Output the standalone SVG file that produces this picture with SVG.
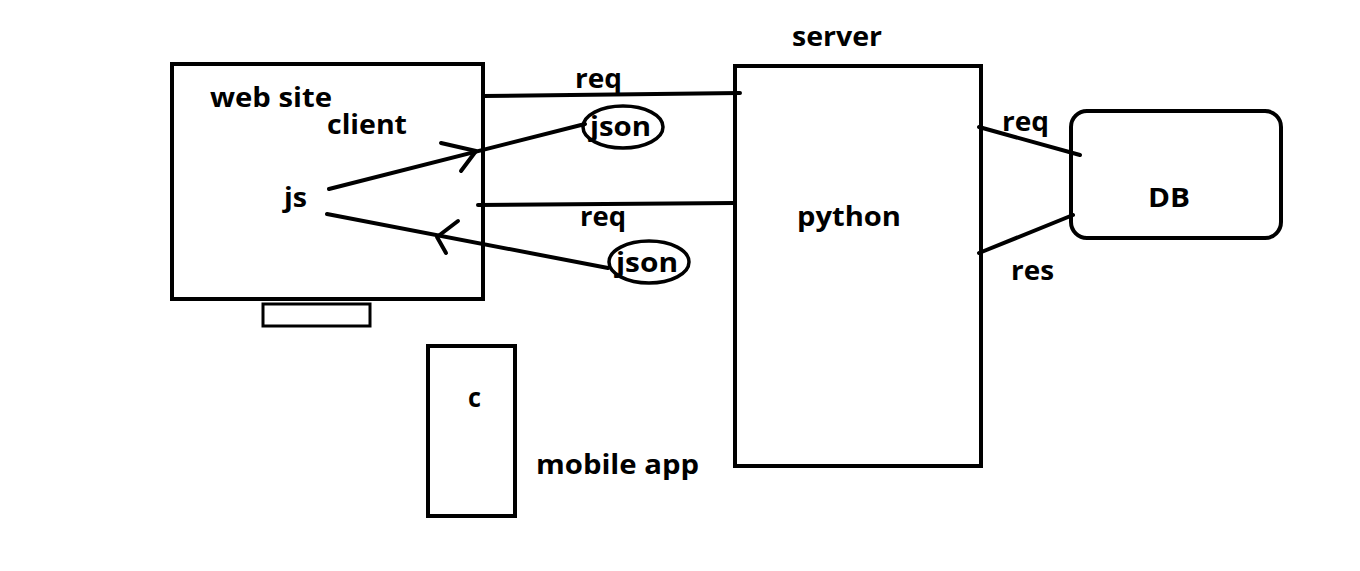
<svg xmlns="http://www.w3.org/2000/svg" width="1360" height="571" viewBox="0 0 1360 571">
<style>
.box{fill:none;stroke:#000;stroke-width:4}
.ln{fill:none;stroke:#000;stroke-width:4;stroke-linecap:round;stroke-linejoin:round}
.t{font-family:"Open Sans","Noto Sans","Liberation Sans",sans-serif;font-weight:bold;font-size:26px;fill:#000}
</style>
<rect width="1360" height="571" fill="#fff"/>
<g id="website">
<rect class="box" x="172" y="64" width="311" height="235"/>
<rect class="box" x="263" y="304" width="107" height="22" style="stroke-width:3"/>
<text class="t" x="210" y="107" textLength="122" lengthAdjust="spacingAndGlyphs">web site</text>
<text class="t" x="327" y="134" textLength="80" lengthAdjust="spacingAndGlyphs">client</text>
<text class="t" x="284" y="207" textLength="23" lengthAdjust="spacingAndGlyphs">js</text>
</g>
<g id="server">
<rect class="box" x="735" y="66" width="246" height="400"/>
<text class="t" x="792" y="46" textLength="90" lengthAdjust="spacingAndGlyphs">server</text>
<text class="t" x="797" y="226" textLength="104" lengthAdjust="spacingAndGlyphs">python</text>
</g>
<g id="db">
<rect class="box" x="1071" y="111" width="210" height="127" rx="16"/>
<text class="t" x="1148" y="207" textLength="42" lengthAdjust="spacingAndGlyphs">DB</text>
</g>
<g id="mobile">
<rect class="box" x="428" y="346" width="87" height="170"/>
<text class="t" x="468" y="407" textLength="13" lengthAdjust="spacingAndGlyphs">c</text>
<text class="t" x="536" y="474" textLength="163" lengthAdjust="spacingAndGlyphs">mobile app</text>
</g>
<g id="json1">
<ellipse class="box" cx="623" cy="127" rx="40" ry="21" style="stroke-width:3.5"/>
<text class="t" x="590" y="136" textLength="61" lengthAdjust="spacingAndGlyphs">json</text>
</g>
<g id="json2">
<ellipse class="box" cx="649" cy="262" rx="40" ry="21" style="stroke-width:3.5"/>
<text class="t" x="616" y="272" textLength="62" lengthAdjust="spacingAndGlyphs">json</text>
</g>
<g id="connectors">
<path class="ln" d="M483 96 L740 93"/>
<path class="ln" d="M478 205 L735 203"/>
<path class="ln" d="M329 189 L585 124"/>
<path class="ln" d="M441 143 L476 151 L461 171"/>
<path class="ln" d="M608 268 L327 214"/>
<path class="ln" d="M458 221 L437 237 L446 253"/>
<path class="ln" d="M979 127 L1080 155"/>
<path class="ln" d="M979 253 L1073 215"/>
</g>
<g id="labels">
<text class="t" x="575" y="88" textLength="47" lengthAdjust="spacingAndGlyphs">req</text>
<text class="t" x="580" y="226" textLength="46" lengthAdjust="spacingAndGlyphs">req</text>
<text class="t" x="1002" y="131" textLength="47" lengthAdjust="spacingAndGlyphs">req</text>
<text class="t" x="1011" y="280" textLength="43" lengthAdjust="spacingAndGlyphs">res</text>
</g>
</svg>
